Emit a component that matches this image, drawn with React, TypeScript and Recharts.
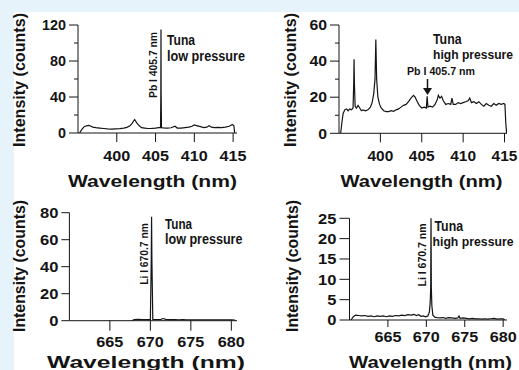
import React from "react";
import { LineChart, Line, XAxis, YAxis } from "recharts";

const W = 519;
const H = 370;
const FONT = "'Liberation Sans', Arial, Helvetica, sans-serif";
const INK = "#141414";

// Pb I 405.7 nm window, tuna at low pressure
const pbLowWl = [
  395.2, 395.5, 395.8, 396.1, 396.4, 396.6, 396.9, 397.3, 397.8, 398.3, 398.8, 399.3, 399.8,
  400.4, 400.9, 401.3, 401.7, 402.0, 402.3, 402.6, 402.9, 403.2, 403.6, 404.0, 404.5, 405.0,
  405.4, 405.64, 405.68, 405.7, 405.72, 405.76, 406.0, 406.5, 407.0, 407.5, 407.8, 408.3, 408.8,
  409.3, 409.7, 410.0, 410.4, 410.8, 411.2, 411.6, 411.9, 412.2, 412.6, 413.0, 413.5, 414.0,
  414.5, 414.9, 415.1, 415.2,
];
const pbLowCounts = [
  0, 4, 7, 8, 8.5, 7.8, 6.5, 6, 5.5, 5, 4.5, 4.3, 4.6,
  4.8, 5.5, 6.3, 8, 11, 15, 11, 8, 6, 5.5, 5, 5.2, 5.5,
  6, 6, 44, 115, 44, 6, 5.8, 5.5, 5.8, 7.5, 5.5, 5.5, 6,
  6.5, 7.5, 9, 8, 7, 6, 6.5, 8, 6.5, 6, 6.2, 6, 6.5,
  7.5, 9.5, 8, 0,
];

// Pb I 405.7 nm window, tuna at high pressure
const pbHighWl = [
  395.2, 395.35, 395.5, 395.7, 395.9, 396.1, 396.3, 396.5, 396.7, 396.78, 396.82, 396.86, 396.95,
  397.1, 397.3, 397.5, 397.7, 397.9, 398.2, 398.5, 398.8, 399.0, 399.2, 399.35, 399.45, 399.55,
  399.7, 399.9, 400.1, 400.4, 400.7, 401.0, 401.3, 401.6, 401.9, 402.2, 402.5, 402.8, 403.1,
  403.4, 403.7, 404.0, 404.2, 404.4, 404.7, 405.0, 405.3, 405.55, 405.65, 405.75, 406.0, 406.3,
  406.6, 406.9, 407.0, 407.2, 407.4, 407.6, 407.9, 408.2, 408.5, 408.65, 408.8, 409.1, 409.4,
  409.7, 410.0, 410.3, 410.6, 410.8, 411.0, 411.3, 411.6, 411.9, 412.2, 412.5, 412.8, 413.1,
  413.4, 413.7, 414.0, 414.3, 414.6, 414.9, 415.05, 415.15, 415.25,
];
const pbHighCounts = [
  0, 6, 11, 13, 13.5, 12.5, 13.5, 13, 14, 28, 41, 28, 15,
  14, 15.5, 14, 12.5, 13, 12.5, 13, 14.5, 17, 22, 30, 52, 30,
  20, 16, 14, 12.5, 12, 12, 12.5, 12.2, 13, 13.5, 14.5, 15.5, 16,
  17.5, 19.5, 21, 20, 18, 15.5, 14, 14.5, 14, 20.5, 14.5, 15, 14.5,
  16, 19, 21, 19.5, 20.5, 18, 16, 16.5, 16, 19.5, 16, 16, 17,
  16.5, 17, 17.5, 18, 19.5, 17, 17.5, 16.5, 17.5, 16, 15, 16.5, 15.5,
  15, 16.5, 15.5, 16.5, 16, 16.5, 16, 6, 0,
];

// Li I 670.7 nm window, tuna at low pressure
const liLowWl = [
  667.7, 668.0, 668.5, 669.0, 669.5, 670.0, 670.11, 670.15, 670.19, 670.3, 670.8, 671.3, 671.6,
  671.9, 672.5, 673.0, 673.5, 674.0, 674.5, 675.0, 675.5, 676.0, 676.5, 677.0, 677.5, 678.0,
  678.5, 679.0, 679.5, 680.0, 680.4, 680.5,
];
const liLowCounts = [
  0, 0.8, 1, 0.8, 0.9, 0.8, 45, 77, 45, 1, 0.9, 1, 1.6,
  1, 0.8, 0.9, 0.7, 0.8, 0.7, 0.6, 0.7, 0.6, 0.7, 0.6, 0.7, 0.6,
  0.7, 0.6, 0.7, 0.6, 0.5, 0,
];

// Li I 670.7 nm window, tuna at high pressure
const liHighWl = [
  660.2, 660.5, 660.8, 661.2, 661.6, 662.0, 662.4, 662.8, 663.2, 663.6, 664.0, 664.4, 664.8,
  665.2, 665.6, 666.0, 666.4, 666.8, 667.2, 667.6, 668.0, 668.4, 668.7, 669.0, 669.3, 669.6,
  669.9, 670.2, 670.4, 670.5, 670.57, 670.61, 670.65, 670.72, 670.85, 671.1, 671.4, 671.8, 672.2,
  672.5, 672.9, 673.3, 673.7, 674.1, 674.25, 674.4, 674.8, 675.2, 675.6, 676.0, 676.4, 676.8,
  677.2, 677.6, 678.0, 678.4, 678.8, 679.2, 679.6, 680.0, 680.2,
];
const liHighCounts = [
  0, 0.8, 1.2, 1.1, 1.0, 1.1, 0.9, 1.0, 0.8, 1.0, 0.9, 1.0, 0.8,
  1.0, 0.9, 1.1, 1.0, 1.2, 1.1, 1.3, 1.2, 1.4, 1.1, 1.3, 0.9, 1.0,
  0.8, 1.0, 2, 4.2, 8, 26, 8, 3.5, 1.2, 0.7, 0.6, 0.5, 0.6,
  0.4, 0.6, 0.5, 0.4, 0.5, 1.0, 0.4, 0.5, 0.4, 0.3, 0.4, 0.3, 0.3,
  0.2, 0.3, 0.2, 0.3, 0.4, 0.2, 0.3, 0.3, 0,
];

const pbTicks = [400, 405, 410, 415];
const liTicks = [665, 670, 675, 680];
const pbLowYTicks = [0, 20, 40, 60, 80, 100, 120];
const pbLowYLabels = [0, 40, 80, 120];
const pbHighYTicks = [0, 10, 20, 30, 40, 50, 60];
const pbHighYLabels = [0, 20, 40, 60];
const liLowYTicks = [0, 20, 40, 60, 80];
const liHighYTicks = [0, 5, 10, 15, 20, 25];

function Txt({ x, y, w, size, anchor = "start", rotate = false, children }: any) {
  return (
    <text
      x={x}
      y={y}
      fontSize={size}
      fontWeight="bold"
      fontFamily={FONT}
      fill={INK}
      textAnchor={anchor}
      textLength={w}
      lengthAdjust="spacingAndGlyphs"
      transform={rotate ? `rotate(-90 ${x} ${y})` : undefined}
    >
      {children}
    </text>
  );
}

const panels = [
  {
    id: "pbLow",
    wl: pbLowWl, counts: pbLowCounts,
    x0: 78, x1: 237, y0: 25, y1: 133,
    xDomain: [395, 415.5], yDomain: [0, 120],
    xTicks: pbTicks, yTicks: pbLowYTicks, yLabels: pbLowYLabels,
    tickSize: 14.5, xCharW: 9, yCharW: 8,
    xLabelBase: 160.5, xTickLen: 9, yTickLen: 9,
    yTitle: { x: 25, y: 80, w: 134 },
    xTitle: { x: 152.5, y: 186.5, w: 169 },
    tuna: { x: 167, y: 45, w: 28 },
    pressure: { x: 167, y: 60.5, w: 78, size: 14, text: "low pressure" },
    line: { x: 156.5, y: 65, w: 66, text: "Pb I 405.7 nm", rotate: true },
  },
  {
    id: "pbHigh",
    wl: pbHighWl, counts: pbHighCounts,
    x0: 339, x1: 507, y0: 25, y1: 133.3,
    xDomain: [395, 415.3], yDomain: [0, 60],
    xTicks: pbTicks, yTicks: pbHighYTicks, yLabels: pbHighYLabels,
    tickSize: 14.5, xCharW: 8.6, yCharW: 8.8,
    xLabelBase: 160.5, xTickLen: 9, yTickLen: 9,
    yTitle: { x: 296, y: 80, w: 134 },
    xTitle: { x: 421.5, y: 186.5, w: 162 },
    tuna: { x: 433, y: 44, w: 28.5 },
    pressure: { x: 433, y: 58.5, w: 80, size: 12.6, text: "high pressure" },
    line: { x: 407, y: 75, w: 68, text: "Pb I 405.7 nm", rotate: false },
    arrow: { x: 427.5, y0: 79, y1: 95 },
  },
  {
    id: "liLow",
    wl: liLowWl, counts: liLowCounts,
    x0: 69.4, x1: 237, y0: 212.7, y1: 320.7,
    xDomain: [660, 680.7], yDomain: [0, 80],
    xTicks: liTicks, yTicks: liLowYTicks, yLabels: liLowYTicks,
    tickSize: 14.5, xCharW: 9, yCharW: 9.2,
    xLabelBase: 347, xTickLen: 10, yTickLen: 8,
    yTitle: { x: 25, y: 266, w: 132 },
    xTitle: { x: 146, y: 368, w: 198 },
    tuna: { x: 165, y: 228.5, w: 27 },
    pressure: { x: 165, y: 243.5, w: 77.5, size: 14, text: "low pressure" },
    line: { x: 148, y: 254, w: 61.7, text: "Li I 670.7 nm", rotate: true },
  },
  {
    id: "liHigh",
    wl: liHighWl, counts: liHighCounts,
    x0: 349.5, x1: 507, y0: 218.3, y1: 320,
    xDomain: [660, 680.5], yDomain: [0, 25],
    xTicks: liTicks, yTicks: liHighYTicks, yLabels: liHighYTicks,
    tickSize: 14.5, xCharW: 9, yCharW: 9.2,
    xLabelBase: 342, xTickLen: 7, yTickLen: 10,
    yTitle: { x: 298, y: 266, w: 132 },
    xTitle: { x: 430.5, y: 368, w: 163 },
    tuna: { x: 434.5, y: 231, w: 28.5 },
    pressure: { x: 432.5, y: 246, w: 81, size: 12.6, text: "high pressure" },
    line: { x: 425.5, y: 255, w: 63, text: "Li I 670.7 nm", rotate: true },
  },
];

function Panel({ p }: any) {
  const data = p.wl.map((w: number, i: number) => ({ wl: w, counts: p.counts[i] }));

  const xTick = (t: any) => {
    const label = String(t.payload.value);
    return (
      <g key={`x-${label}`}>
        <line x1={t.x} x2={t.x} y1={p.y1} y2={p.y1 + p.xTickLen} stroke={INK} strokeWidth={1} />
        <Txt x={t.x} y={p.xLabelBase} w={label.length * p.xCharW} size={p.tickSize} anchor="middle">
          {label}
        </Txt>
      </g>
    );
  };

  const yTick = (t: any) => {
    const v = t.payload.value;
    const major = p.yLabels.includes(v);
    const len = major ? p.yTickLen : 4;
    const label = String(v);
    return (
      <g key={`y-${v}`}>
        <line x1={p.x0 - len} x2={p.x0} y1={t.y} y2={t.y} stroke={INK} strokeWidth={1} />
        {major && (
          <Txt x={p.x0 - len - 3} y={t.y + p.tickSize * 0.36} w={label.length * p.yCharW} size={p.tickSize} anchor="end">
            {label}
          </Txt>
        )}
      </g>
    );
  };

  return (
    <div style={{ position: "absolute", left: 0, top: 0 }}>
      <LineChart
        width={W}
        height={H}
        data={data}
        margin={{ top: p.y0, right: W - p.x1, bottom: 0, left: 0 }}
      >
        <XAxis
          type="number"
          dataKey="wl"
          domain={p.xDomain}
          ticks={p.xTicks}
          interval={0}
          height={H - p.y1}
          allowDataOverflow
          axisLine={{ stroke: INK, strokeWidth: 1 }}
          tickLine={false}
          tick={xTick}
        />
        <YAxis
          type="number"
          domain={p.yDomain}
          ticks={p.yTicks}
          interval={0}
          width={p.x0}
          allowDataOverflow
          axisLine={{ stroke: INK, strokeWidth: 1 }}
          tickLine={false}
          tick={yTick}
        />
        <Line
          type="linear"
          dataKey="counts"
          stroke={INK}
          strokeWidth={1.2}
          dot={false}
          isAnimationActive={false}
        />
        <Txt x={p.yTitle.x} y={p.yTitle.y} w={p.yTitle.w} size={16.5} anchor="middle" rotate>
          Intensity (counts)
        </Txt>
        <Txt x={p.xTitle.x} y={p.xTitle.y} w={p.xTitle.w} size={16.5} anchor="middle">
          Wavelength (nm)
        </Txt>
        <Txt x={p.tuna.x} y={p.tuna.y} w={p.tuna.w} size={14}>
          Tuna
        </Txt>
        <Txt x={p.pressure.x} y={p.pressure.y} w={p.pressure.w} size={p.pressure.size}>
          {p.pressure.text}
        </Txt>
        <Txt
          x={p.line.x}
          y={p.line.y}
          w={p.line.w}
          size={11.5}
          anchor={p.line.rotate ? "middle" : "start"}
          rotate={p.line.rotate}
        >
          {p.line.text}
        </Txt>
        {p.arrow && (
          <g>
            <line x1={p.arrow.x} x2={p.arrow.x} y1={p.arrow.y0} y2={p.arrow.y1 - 5} stroke={INK} strokeWidth={1.5} />
            <path
              d={`M${p.arrow.x - 4.5},${p.arrow.y1 - 7} L${p.arrow.x + 4.5},${p.arrow.y1 - 7} L${p.arrow.x},${p.arrow.y1} Z`}
              fill={INK}
            />
          </g>
        )}
      </LineChart>
    </div>
  );
}

export default function App() {
  return (
    <div style={{ position: "absolute", left: 0, top: 0, width: W, height: H, background: "#fff", overflow: "hidden" }}>
      <div style={{ position: "absolute", left: 0, top: 0, width: W, height: 12, background: "#e6f3fa" }} />
      <div style={{ position: "absolute", left: 0, top: 0, width: 14, height: H, background: "#e6f3fa" }} />
      {panels.map((p) => (
        <Panel key={p.id} p={p} />
      ))}
    </div>
  );
}
